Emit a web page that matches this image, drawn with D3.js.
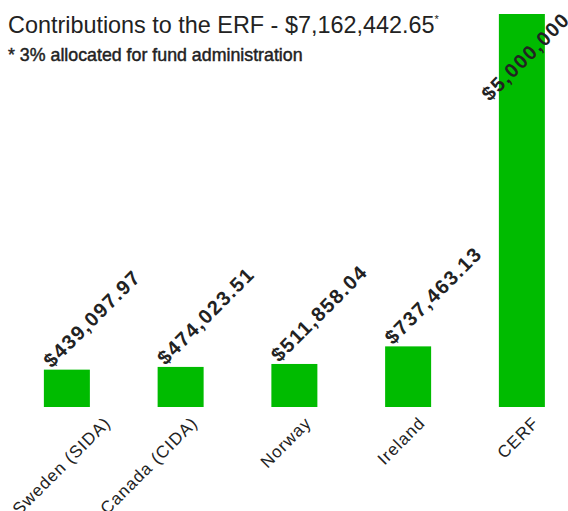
<!DOCTYPE html>
<html>
<head>
<meta charset="utf-8">
<script src="https://cdn.jsdelivr.net/npm/d3@7"></script>
<style>
  html, body { margin: 0; padding: 0; background: #fff; }
  svg { display: block; font-family: "Liberation Sans", Arial, Helvetica, sans-serif; }
</style>
</head>
<body>
<svg id="chart" width="568" height="511"></svg>
<script>
// ---- data ----
const categories = ["Sweden (SIDA)", "Canada (CIDA)", "Norway", "Ireland", "CERF"];
const values = [439097.97, 474023.51, 511858.04, 737463.13, 5000000];
const valueLabels = ["$439,097.97", "$474,023.51", "$511,858.04", "$737,463.13", "$5,000,000"];
const titleText = "Contributions to the ERF - $7,162,442.65";
const subtitleText = "* 3% allocated for fund administration";

// ---- layout ----
const svg = d3.select("#chart");

const x = d3.scaleBand()
  .domain(categories)
  .range([10, 578.75])
  .paddingInner(0.5956)
  .paddingOuter(0.2978);

const y = d3.scaleLinear()
  .domain([-40000, 5000000])
  .range([407, 14]);

// title
const title = svg.append("text")
  .attr("x", 8).attr("y", 33)
  .attr("font-size", 23.4)
  .attr("fill", "#222")
  .text(titleText);
title.append("tspan")
  .attr("font-size", 11)
  .attr("dy", -10)
  .text("*");

svg.append("text")
  .attr("x", 8).attr("y", 61)
  .attr("font-size", 17.8)
  .attr("fill", "#222")
  .attr("stroke", "#222")
  .attr("stroke-width", 0.45)
  .text(subtitleText);

const data = categories.map((c, i) => ({ c, v: values[i], label: valueLabels[i] }));

// bars
svg.append("g").selectAll("rect")
  .data(data)
  .join("rect")
  .attr("x", d => x(d.c))
  .attr("y", d => y(d.v))
  .attr("width", x.bandwidth())
  .attr("height", d => y(-40000) - y(d.v))
  .attr("fill", "#00bb00");

// category labels
const catX = d => x(d.c) + x.bandwidth() / 2 + 18;
const catY = 424;
const cat = svg.append("g").selectAll("text")
  .data(data)
  .join("text")
  .attr("transform", d => `translate(${catX(d)},${catY}) rotate(-45)`)
  .attr("text-anchor", "end")
  .attr("font-size", 17)
  .attr("letter-spacing", 1)
  .attr("fill", "#222")
  .text(d => d.c);

// keep category labels inside left edge
cat.each(function (d) {
  const b = this.getBoundingClientRect();
  if (b.left < 9) {
    const dx = 9 - b.left;
    d3.select(this).attr("transform", `translate(${catX(d) + dx},${catY}) rotate(-45)`);
  }
});

// value labels
const valX = d => x(d.c) + 8;
const valY = d => y(d.v) - 1;
const vl = svg.append("g").selectAll("text")
  .data(data)
  .join("text")
  .attr("font-size", 20)
  .attr("font-weight", "bold")
  .attr("letter-spacing", 1.5)
  .attr("fill", "#222")
  .attr("transform", d => `translate(${valX(d)},${valY(d)}) rotate(-45)`)
  .text(d => d.label);

// justify labels that overflow the top of the chart
vl.each(function (d) {
  const b = this.getBoundingClientRect();
  let dx = 0, dy = 0;
  if (b.top < 8) {
    dy = 8 - b.top;
    if (b.right > 574) dx = 574 - b.right;
  }
  if (dx || dy) {
    d3.select(this).attr("transform", `translate(${valX(d) + dx},${valY(d) + dy}) rotate(-45)`);
  }
});
</script>
</body>
</html>
